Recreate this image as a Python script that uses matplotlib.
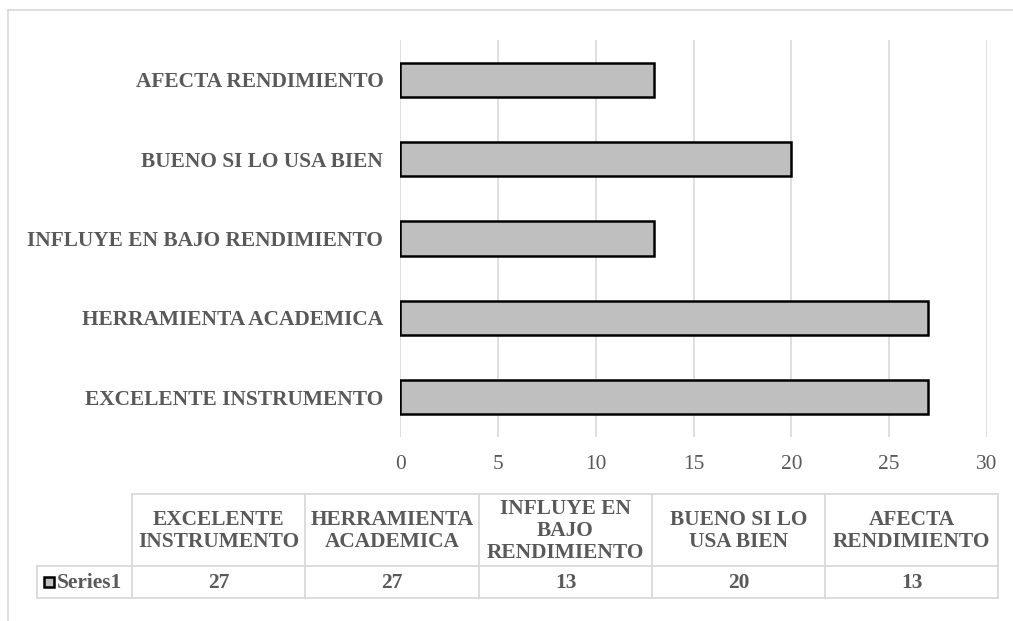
import matplotlib
matplotlib.use("Agg")
import matplotlib.pyplot as plt
from matplotlib.patches import Rectangle

# data
categories = ["EXCELENTE INSTRUMENTO", "HERRAMIENTA ACADEMICA",
              "INFLUYE EN BAJO RENDIMIENTO", "BUENO SI LO USA BIEN",
              "AFECTA RENDIMIENTO"]
table_headers = ["EXCELENTE\nINSTRUMENTO", "HERRAMIENTA\nACADEMICA",
                 "INFLUYE EN\nBAJO\nRENDIMIENTO", "BUENO SI LO\nUSA BIEN",
                 "AFECTA\nRENDIMIENTO"]
values = [27, 27, 13, 20, 13]
series_name = "Series1"
xticks = [0, 5, 10, 15, 20, 25, 30]

W, H = 1013, 621
TXT = "#595959"
GRID = "#d9d9d9"
FILL = "#bfbfbf"
FS = 15.4

plt.rcParams['font.family'] = ['Liberation Serif', 'DejaVu Serif']

fig = plt.figure(figsize=(W / 100, H / 100), dpi=100)

# background overlay in pixel coords for frame + data table
bg = fig.add_axes([0, 0, 1, 1], zorder=0)
bg.set_xlim(0, W)
bg.set_ylim(H, 0)
bg.axis("off")

# chart frame (cut off at right/bottom like the original)
bg.plot([8, 8], [10, H + 5], color=GRID, lw=1.2)
bg.plot([8, W + 5], [10, 10], color=GRID, lw=1.2)

# main axes
ax = fig.add_axes([400 / W, (H - 437) / H, 587 / W, 397 / H], zorder=1)
ax.patch.set_alpha(0)
ypos = list(range(len(categories)))
ax.barh(ypos, values, height=0.43, color=FILL, edgecolor="black", linewidth=1.8, zorder=3)
ax.set_xlim(0, 30)
ax.set_ylim(-0.5, len(categories) - 0.5)
ax.set_xticks(xticks)
ax.set_xticklabels([str(t) for t in xticks])
ax.set_yticks(ypos)
ax.set_yticklabels(categories, fontweight="bold")
ax.tick_params(axis="x", length=0, pad=13, labelsize=FS, labelcolor=TXT)
ax.tick_params(axis="y", length=0, pad=12, labelsize=FS, labelcolor=TXT)
ax.grid(axis="x", color=GRID, lw=1.2, zorder=0)
for s in ax.spines.values():
    s.set_visible(False)

# data table
col_edges = [132, 305, 479, 652, 825, 998]
top, mid, bot = 494, 566, 598
lk = dict(color=GRID, lw=1.3)
bg.plot([col_edges[0], col_edges[-1]], [top, top], **lk)
bg.plot([37, col_edges[-1]], [mid, mid], **lk)
bg.plot([37, col_edges[-1]], [bot, bot], **lk)
bg.plot([37, 37], [mid, bot], **lk)
for x in col_edges:
    bg.plot([x, x], [top, bot], **lk)

for i, (hdr, v) in enumerate(zip(table_headers, values)):
    cx = (col_edges[i] + col_edges[i + 1]) / 2
    bg.text(cx, (top + mid) / 2 + 1, hdr, ha="center", va="center", fontsize=FS,
            fontweight="bold", color=TXT, linespacing=1.15)
    bg.text(cx, (mid + bot) / 2 + 1, str(v), ha="center", va="center", fontsize=FS,
            fontweight="bold", color=TXT)

# legend key + series name
bg.add_patch(Rectangle((44, 577), 10, 10, facecolor=FILL, edgecolor="black", lw=1.8))
bg.text(57, (mid + bot) / 2 + 1, series_name, ha="left", va="center", fontsize=FS,
        fontweight="bold", color=TXT)

fig.savefig("out.png", dpi=100)
